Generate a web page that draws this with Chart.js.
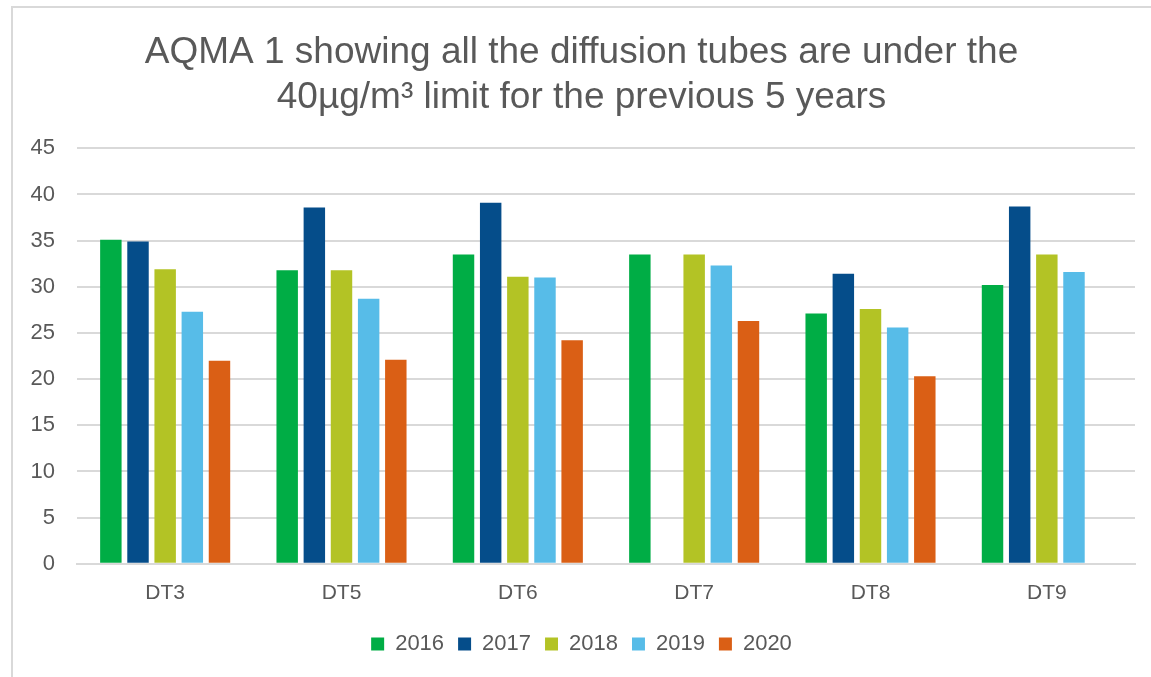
<!DOCTYPE html>
<html>
<head>
<meta charset="utf-8">
<script src="https://cdn.jsdelivr.net/npm/chart.js@4"></script>
<style>
  body { margin:0; background:#fff; }
  #frame { position:absolute; left:11px; top:6px; width:1160px; height:700px;
           border-left:2px solid #d9d9d9; border-top:2px solid #d9d9d9; }
  #wrap { position:absolute; left:0; top:0; width:1151px; height:677px; }
</style>
</head>
<body>
<div id="frame"></div>
<div id="wrap"><canvas id="dia"></canvas></div>
<script>
// data
const sites = ["DT3", "DT5", "DT6", "DT7", "DT8", "DT9"];
const years = ["2016", "2017", "2018", "2019", "2020"];
const v2016 = [35.1, 31.8, 33.5, 33.5, 27.1, 30.2];
const v2017 = [34.9, 38.6, 39.1, null, 31.4, 38.7];
const v2018 = [31.9, 31.8, 31.1, 33.5, 27.6, 33.5];
const v2019 = [27.3, 28.7, 31.0, 32.3, 25.6, 31.6];
const v2020 = [22.0, 22.1, 24.2, 26.3, 20.3, null];
const yTicks = [0, 5, 10, 15, 20, 25, 30, 35, 40, 45];

const colours = ["#00ad45", "#054d8a", "#b3c325", "#57bce8", "#da5f15"];
const series = [v2016, v2017, v2018, v2019, v2020];
const grey = "#595959";

Chart.defaults.font.family = "'Liberation Sans', Arial, sans-serif";
Chart.defaults.color = grey;

new Chart(document.getElementById("dia"), {
  type: "bar",
  data: {
    labels: sites,
    datasets: years.map((y, i) => ({
      label: y,
      data: series[i],
      backgroundColor: colours[i],
      categoryPercentage: 0.77,
      barPercentage: 0.79
    }))
  },
  options: {
    responsive: true,
    maintainAspectRatio: false,
    animation: false,
    layout: { padding: { left: 28, right: 16, top: 0, bottom: 12 } },
    plugins: {
      title: {
        display: true,
        text: ["AQMA 1 showing all the diffusion tubes are under the",
               "40µg/m³ limit for the previous 5 years"],
        font: { size: 37, weight: "normal", lineHeight: 1.22 },
        color: grey,
        padding: { top: 30, bottom: 28 }
      },
      legend: {
        position: "bottom",
        labels: { boxWidth: 13, boxHeight: 13, font: { size: 22 }, color: grey, padding: 14 }
      },
      tooltip: { enabled: false }
    },
    scales: {
      x: {
        afterFit: s => { s.height += 4; },
        grid: { display: false },
        border: { color: "#d9d9d9", width: 2 },
        ticks: { font: { size: 21 }, color: grey, padding: 9 }
      },
      y: {
        min: 0, max: 45,
        afterBuildTicks: s => { s.ticks = yTicks.map(v => ({ value: v })); },
        afterFit: s => { s.width = 49; },
        grid: { color: "#d9d9d9", lineWidth: 2, drawTicks: false },
        border: { display: false },
        ticks: { font: { size: 22 }, color: grey, padding: 22 }
      }
    }
  }
});
</script>
</body>
</html>
